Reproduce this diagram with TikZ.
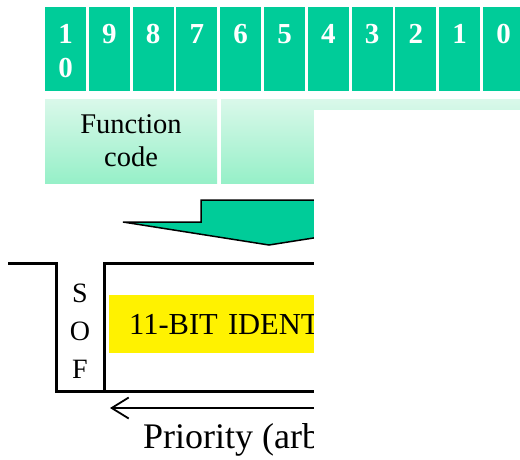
\documentclass[tikz,border=0pt]{standalone}
\usepackage{fontspec}
\setmainfont{Liberation Serif}
\usetikzlibrary{arrows.meta}
\definecolor{can_green}{RGB}{0, 204, 153}
\definecolor{can_light}{RGB}{218, 248, 234}
\definecolor{can_mid}{RGB}{150, 240, 200}
\tikzstyle{bit}=[rectangle,fill=can_green,minimum width=41pt,minimum height=84pt,inner sep=0pt]
\tikzstyle{digit}=[anchor=north,yshift=-17.5pt,inner sep=0pt,text=white,align=center,
  font=\fontsize{29}{34}\selectfont\bfseries]
\tikzstyle{field}=[rectangle,top color=can_light,bottom color=can_mid,minimum height=84pt,
  inner sep=0pt,align=center,font=\fontsize{28.5}{33}\selectfont]
\tikzstyle{idbox}=[rectangle,fill=yellow,minimum height=58pt,inner xsep=20pt,inner ysep=0pt,
  text width=240pt,align=left,font=\fontsize{30.5}{36}\selectfont]
\tikzstyle{frame}=[line width=3pt]

\begin{document}
\begin{tikzpicture}[x=1pt,y=-1pt]
        \useasboundingbox (0,0) rectangle (520,459);
        \node[style=bit,label={[digit]north:1\\0}] (b10) at (65.5,49) {};
        \node[style=bit,label={[digit]north:9}] (b9) at (109.3,49) {};
        \node[style=bit,label={[digit]north:8}] (b8) at (153.1,49) {};
        \node[style=bit,label={[digit]north:7}] (b7) at (196.9,49) {};
        \node[style=bit,label={[digit]north:6}] (b6) at (240.7,49) {};
        \node[style=bit,label={[digit]north:5}] (b5) at (284.5,49) {};
        \node[style=bit,label={[digit]north:4}] (b4) at (328.3,49) {};
        \node[style=bit,label={[digit]north:3}] (b3) at (372.1,49) {};
        \node[style=bit,label={[digit]north:2}] (b2) at (415.9,49) {};
        \node[style=bit,label={[digit]north:1}] (b1) at (459.7,49) {};
        \node[style=bit,label={[digit]north:0}] (b0) at (503.5,49) {};
        \node[style=field,minimum width=172pt] (fcode) at (131,141) {Function\\code};
        \node[style=field,minimum width=309pt] (rest) at (375.5,141) {};
        \draw[fill=can_green,line width=1.5pt,line join=miter]
          (123,222) -- (201,222) -- (201,200) -- (337,200) -- (337,222)
          -- (415,222) -- (269,245) -- cycle;
        \draw[style=frame] (8,263) -- (56,263) -- (56,391) -- (530,391);
        \draw[style=frame] (104,391) -- (104,263) -- (530,263);
        \node[align=center,font=\fontsize{28}{38}\selectfont] (sof) at (80,331) {S\\O\\F};
        \node[style=idbox,anchor=west] (ident) at (109,324) {11-BIT IDENT};
        \coordinate (arbR) at (530,408);
        \coordinate (arbL) at (110,408);
        \draw[line width=1.8pt,-{Straight Barb[length=17pt,width=21pt,line width=1.8pt]}] (arbR) -- (arbL);
        \node[anchor=base west,inner sep=0pt,font=\fontsize{36}{40}\selectfont] (prio) at (143,448) {Priority (arb};
        \fill[white] (314,110) rectangle (521,460);
    \end{tikzpicture}
\end{document}
